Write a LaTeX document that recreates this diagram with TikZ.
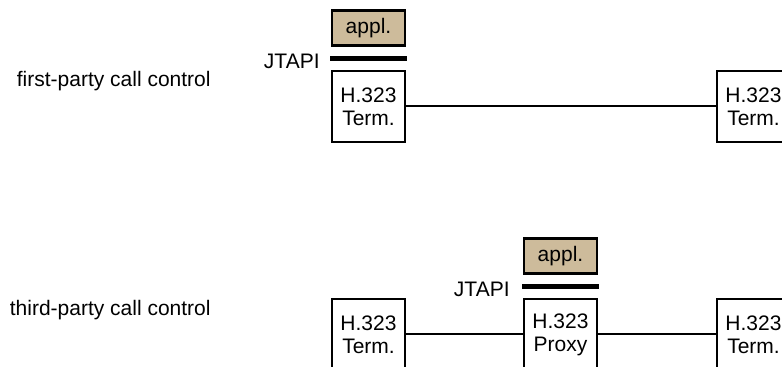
\documentclass[tikz,border=0pt]{standalone}
\usepackage{fontspec}
\setmainfont{Liberation Sans}
\usetikzlibrary{positioning}
\definecolor{appltan}{RGB}{205,187,155}

\begin{document}
\begin{tikzpicture}[x=0.5pt, y=-0.5pt,
    every node/.style={font=\fontsize{10.5}{11.5}\selectfont},
    box/.style={draw, line width=1.1pt, minimum width=36.5pt, minimum height=35.5pt,
                inner sep=0pt, align=center},
    applbox/.style={draw, fill=appltan, line width=1.1pt, minimum width=36.5pt,
                    minimum height=17.5pt, inner sep=0pt},
    apibar/.style={line width=2.75pt},
    wire/.style={line width=1pt},
    caption/.style={anchor=base east, inner sep=0pt}]
  \useasboundingbox (0,0) rectangle (782,367);

  % first-party call control
  \node[caption] (fp) at (211,87) {first-party call control};
  \node[applbox] (appA) at (368.5,28) {appl.};
  \coordinate (barAl) at (330,58.5);
  \coordinate (barAr) at (407,58.5);
  \draw[apibar] (barAl) -- (barAr);
  \node[caption] (jtA) at (320,69) {JTAPI};
  \node[box] (termA) at (368.5,106.5) {H.323\\Term.};
  \node[box] (termB) at (753.5,106.5) {H.323\\Term.};
  \draw[wire] (termA) -- (termB);

  % third-party call control
  \node[caption] (tp) at (211,316) {third-party call control};
  \node[applbox] (appB) at (560.5,256) {appl.};
  \coordinate (barBl) at (522,286.5);
  \coordinate (barBr) at (599,286.5);
  \draw[apibar] (barBl) -- (barBr);
  \node[caption] (jtB) at (510,297) {JTAPI};
  \node[box] (termC) at (368.5,334.5) {H.323\\Term.};
  \node[box] (proxy) at (560.5,334.5) {H.323\\Proxy};
  \node[box] (termD) at (753.5,334.5) {H.323\\Term.};
  \draw[wire] (termC) -- (proxy);
  \draw[wire] (proxy) -- (termD);
\end{tikzpicture}
\end{document}
